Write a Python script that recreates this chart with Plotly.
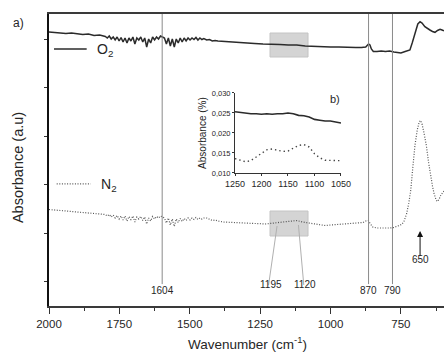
import plotly.graph_objects as go

# ---------------- main spectra (arbitrary absorbance units) ----------------
wn_o2 = [2000, 1980, 1960, 1940, 1920, 1900, 1880, 1860, 1840, 1820, 1800,
         1793, 1786, 1779, 1772, 1765, 1758, 1751, 1744, 1737, 1730, 1723, 1716,
         1709, 1702, 1695, 1688, 1681, 1674, 1667, 1660, 1653, 1646, 1639, 1632,
         1625, 1618, 1611, 1604, 1597, 1590, 1583, 1576, 1569, 1562, 1555, 1548,
         1541, 1534, 1527, 1520, 1513, 1506, 1499, 1492, 1485, 1478, 1471, 1464,
         1457, 1450, 1440, 1430, 1420, 1410, 1400,
         1380, 1350, 1320, 1300, 1270, 1240, 1210, 1180, 1150, 1120, 1090, 1060,
         1030, 1000, 970, 940, 910, 890, 875, 865, 860, 855, 848, 835, 820, 805,
         790, 775, 760, 750, 735, 718, 710, 700, 690, 682, 675, 665, 655, 647,
         638, 629, 620, 611, 604, 597]
abs_o2 = [2.740, 2.735, 2.730, 2.725, 2.730, 2.720, 2.715, 2.720, 2.705, 2.710, 2.695,
          2.680, 2.700, 2.670, 2.690, 2.660, 2.690, 2.650, 2.685, 2.640, 2.680, 2.630, 2.680,
          2.650, 2.690, 2.620, 2.680, 2.660, 2.690, 2.640, 2.680, 2.590, 2.670, 2.630, 2.690,
          2.660, 2.690, 2.670, 2.700, 2.690, 2.680, 2.620, 2.680, 2.600, 2.670, 2.590, 2.670,
          2.630, 2.680, 2.640, 2.680, 2.650, 2.680, 2.660, 2.680, 2.665, 2.685, 2.660, 2.680,
          2.665, 2.675, 2.660, 2.665, 2.650, 2.655, 2.650,
          2.645, 2.640, 2.635, 2.630, 2.625, 2.620, 2.620, 2.615, 2.610, 2.610, 2.600, 2.595,
          2.590, 2.590, 2.590, 2.585, 2.585, 2.585, 2.590, 2.620, 2.610, 2.570, 2.545, 2.545,
          2.550, 2.545, 2.550, 2.540, 2.530, 2.530, 2.545, 2.560, 2.630, 2.730, 2.820, 2.843,
          2.830, 2.793, 2.770, 2.760, 2.745, 2.737, 2.755, 2.767, 2.760, 2.753]

wn_n2 = [2000, 1980, 1960, 1940, 1920, 1900, 1880, 1860, 1840, 1820, 1800,
         1793, 1786, 1779, 1772, 1765, 1758, 1751, 1744, 1737, 1730, 1723, 1716,
         1709, 1702, 1695, 1688, 1681, 1674, 1667, 1660, 1653, 1646, 1639, 1632,
         1625, 1618, 1611, 1604, 1597, 1590, 1583, 1576, 1569, 1562, 1555, 1548,
         1541, 1534, 1527, 1520, 1513, 1506, 1499, 1492, 1485, 1478, 1471, 1464,
         1457, 1450, 1440, 1430, 1420, 1410, 1400,
         1380, 1350, 1320, 1290, 1260, 1230, 1200, 1180, 1160, 1140, 1120, 1100,
         1080, 1060, 1040, 1020, 1000, 980, 960, 940, 920, 900, 885, 875, 866, 858,
         850, 835, 820, 805, 790, 775, 760, 748, 740, 730, 722, 715, 708, 700, 692,
         685, 680, 675, 668, 660, 652, 645, 638, 632, 625, 620, 614, 608, 602, 597]
abs_n2 = [0.965, 0.960, 0.955, 0.950, 0.945, 0.940, 0.940, 0.930, 0.925, 0.920, 0.915,
          0.900, 0.915, 0.890, 0.910, 0.880, 0.905, 0.870, 0.900, 0.860, 0.900, 0.850, 0.895,
          0.865, 0.900, 0.840, 0.890, 0.870, 0.895, 0.855, 0.890, 0.820, 0.880, 0.850, 0.895,
          0.870, 0.895, 0.880, 0.900, 0.890, 0.880, 0.830, 0.880, 0.810, 0.870, 0.795, 0.870,
          0.835, 0.875, 0.845, 0.875, 0.855, 0.880, 0.860, 0.880, 0.865, 0.885, 0.865, 0.880,
          0.870, 0.880, 0.880, 0.865, 0.855, 0.860, 0.850,
          0.840, 0.835, 0.830, 0.825, 0.820, 0.820, 0.830, 0.835, 0.840, 0.845, 0.855, 0.840,
          0.830, 0.820, 0.810, 0.805, 0.810, 0.815, 0.820, 0.820, 0.825, 0.830, 0.835, 0.850,
          0.855, 0.820, 0.790, 0.780, 0.780, 0.775, 0.780, 0.785, 0.800, 0.815, 0.840, 0.920,
          1.030, 1.160, 1.380, 1.610, 1.760, 1.840, 1.855, 1.820, 1.730, 1.610, 1.440, 1.300,
          1.200, 1.120, 1.060, 1.045, 1.070, 1.110, 1.140, 1.150]

# ---------------- inset b) ----------------
wn_inset = [1250, 1240, 1230, 1220, 1210, 1200, 1190, 1180, 1170, 1160, 1150,
            1140, 1130, 1120, 1110, 1100, 1090, 1080, 1070, 1060, 1050]
inset_o2 = [0.0253, 0.0251, 0.0249, 0.0248, 0.0248, 0.0247, 0.0248, 0.0247, 0.0248,
            0.0248, 0.0250, 0.0248, 0.0244, 0.0243, 0.0240, 0.0234, 0.0232, 0.0230,
            0.0230, 0.0228, 0.0225]
inset_n2 = [0.0136, 0.0131, 0.0128, 0.0131, 0.0140, 0.0150, 0.0158, 0.0160, 0.0157,
            0.0154, 0.0155, 0.0162, 0.0169, 0.0171, 0.0165, 0.0148, 0.0138, 0.0132,
            0.0131, 0.0131, 0.0131]
inset_yticks = [0.010, 0.015, 0.020, 0.025, 0.030]
inset_ytext = ["0,010", "0,015", "0,020", "0,025", "0,030"]
inset_xticks = [1250, 1200, 1150, 1100, 1050]

# ---------------- band markers ----------------
band_pos = [1598, 865, 780]
band_lbl = ["1604", "870", "790"]
x_ticks = [2000, 1750, 1500, 1250, 1000, 750]

FONT = "Liberation Sans, Arial, sans-serif"
TXT = "#262626"
DOT = "1px,1.6px"

fig = go.Figure()
fig.add_trace(go.Scatter(x=wn_o2, y=abs_o2, mode="lines", showlegend=False,
                         line=dict(color="#2b2b2b", width=1.5)))
fig.add_trace(go.Scatter(x=wn_n2, y=abs_n2, mode="lines", showlegend=False,
                         line=dict(color="#555555", width=1.2, dash=DOT)))
fig.add_trace(go.Scatter(x=wn_inset, y=inset_o2, mode="lines", showlegend=False,
                         xaxis="x2", yaxis="y2",
                         line=dict(color="#2b2b2b", width=1.6)))
fig.add_trace(go.Scatter(x=wn_inset, y=inset_n2, mode="lines", showlegend=False,
                         xaxis="x2", yaxis="y2",
                         line=dict(color="#444444", width=1.4, dash="1.4px,3px")))

shapes = []
# inset background
shapes.append(dict(type="rect", xref="x2 domain", yref="y2 domain", x0=0, x1=1, y0=0, y1=1,
                   fillcolor="#d9d9d9", line=dict(width=0), layer="below"))
# highlighted regions
for (y0, y1) in [(2.49, 2.73), (0.70, 0.95)]:
    shapes.append(dict(type="rect", xref="x", yref="y", x0=1215, x1=1080, y0=y0, y1=y1,
                       fillcolor="#d4d4d4", line=dict(color="#c4c4c4", width=1), layer="below"))
# vertical band lines
for p in band_pos:
    shapes.append(dict(type="line", xref="x", yref="paper", x0=p, x1=p, y0=0.075, y1=1,
                       line=dict(color="#8a8a8a", width=1)))
# leader lines to 1195 / 1120
shapes.append(dict(type="line", xref="x", yref="y", x0=1220, x1=1190, y0=0.21, y1=0.80,
                   line=dict(color="#b0b0b0", width=1)))
shapes.append(dict(type="line", xref="x", yref="y", x0=1095, x1=1114, y0=0.21, y1=0.81,
                   line=dict(color="#b0b0b0", width=1)))
# legend samples
shapes.append(dict(type="line", xref="paper", yref="paper", x0=0.0127, x1=0.0954,
                   y0=0.880, y1=0.880, line=dict(color="#2b2b2b", width=1.6)))
shapes.append(dict(type="line", xref="paper", yref="paper", x0=0.0195, x1=0.1056,
                   y0=0.418, y1=0.418, line=dict(color="#555555", width=1.2, dash=DOT)))

ann = []
ann.append(dict(text="O<sub>2</sub>", xref="paper", yref="paper", x=0.1165, y=0.877,
                xanchor="left", yanchor="middle", showarrow=False,
                font=dict(family=FONT, size=14, color=TXT)))
ann.append(dict(text="N<sub>2</sub>", xref="paper", yref="paper", x=0.1266, y=0.414,
                xanchor="left", yanchor="middle", showarrow=False,
                font=dict(family=FONT, size=14, color=TXT)))
for p, l in zip(band_pos, band_lbl):
    ann.append(dict(text=l, xref="x", yref="paper", x=p, y=0.052, showarrow=False,
                    xanchor="center", yanchor="middle",
                    font=dict(family=FONT, size=10, color=TXT)))
ann.append(dict(text="1195", xref="x", yref="paper", x=1211, y=0.048, showarrow=False,
                font=dict(family=FONT, size=10, color=TXT)))
ann.append(dict(text="1120", xref="x", yref="paper", x=1091, y=0.048, showarrow=False,
                font=dict(family=FONT, size=10, color=TXT)))
ann.append(dict(text="650", xref="x", yref="paper", x=682, y=0.135, showarrow=False,
                font=dict(family=FONT, size=10, color=TXT)))
ann.append(dict(text=" ", xref="x", yref="paper", x=682, y=0.257, ax=0, ay=27,
                showarrow=True, arrowhead=2, arrowsize=1.2, arrowwidth=1, arrowcolor="#111",
                font=dict(size=1)))
ann.append(dict(text="a)", xref="paper", yref="paper", x=-0.078, y=0.97, showarrow=False,
                xanchor="center", yanchor="middle",
                font=dict(family=FONT, size=12, color=TXT)))
ann.append(dict(text="Absorbance (a.u)", xref="paper", yref="paper", x=-0.078, y=0.473,
                textangle=-90, showarrow=False, xanchor="center", yanchor="middle",
                font=dict(family=FONT, size=14.5, color=TXT)))
ann.append(dict(text="Wavenumber (cm<sup>-1</sup>)", xref="paper", yref="paper",
                x=0.503, y=-0.128, showarrow=False, xanchor="center", yanchor="middle",
                font=dict(family=FONT, size=13.5, color=TXT)))
ann.append(dict(text="Absorbance (%)", xref="paper", yref="paper", x=0.39, y=0.593,
                textangle=-90, showarrow=False, xanchor="center", yanchor="middle",
                font=dict(family=FONT, size=10, color=TXT)))
ann.append(dict(text="b)", xref="x2 domain", yref="y2 domain", x=0.94, y=0.92,
                showarrow=False, xanchor="center", yanchor="middle",
                font=dict(family=FONT, size=11, color=TXT)))

fig.update_layout(
    width=444, height=353,
    margin=dict(l=49, r=0, t=14, b=47, autoexpand=False),
    paper_bgcolor="white", plot_bgcolor="white",
    font=dict(family=FONT, color=TXT),
    shapes=shapes, annotations=ann,
    xaxis=dict(range=[2000, 597], tickvals=x_ticks, ticks="outside", ticklen=6,
               tickwidth=1.3, tickcolor="#333", showline=True, linecolor="#3a3a3a",
               linewidth=1.6, mirror=True, showgrid=False, zeroline=False,
               automargin=False, tickfont=dict(size=11.5, color=TXT),
               minor=dict(dtick=125, tick0=2000, ticks="outside", ticklen=3,
                          tickwidth=1.2, tickcolor="#333", showgrid=False)),
    yaxis=dict(range=[0, 2.92], tick0=0.245, dtick=0.485, ticks="outside", ticklen=3,
               tickwidth=1.2, tickcolor="#333", showticklabels=False, showline=True,
               linecolor="#111", linewidth=1.6, showgrid=False, zeroline=False,
               automargin=False),
    xaxis2=dict(domain=[0.4709, 0.7392], anchor="y2", range=[1250, 1050],
                tickvals=inset_xticks, ticks="outside", ticklen=2, tickcolor="#333",
                showline=True, linecolor="#333", linewidth=1, showgrid=False,
                zeroline=False, automargin=False, tickfont=dict(size=9, color=TXT)),
    yaxis2=dict(domain=[0.4555, 0.7295], anchor="x2", range=[0.010, 0.030],
                tickvals=inset_yticks, ticktext=inset_ytext, ticks="outside", ticklen=2,
                tickcolor="#333", showline=True, linecolor="#333", linewidth=1,
                showgrid=False, zeroline=False, automargin=False,
                tickfont=dict(size=7.5, color=TXT)),
)

fig.write_html("out.html", config={"displayModeBar": False},
               post_script="document.body.style.margin='0';document.body.style.overflow='hidden';")
